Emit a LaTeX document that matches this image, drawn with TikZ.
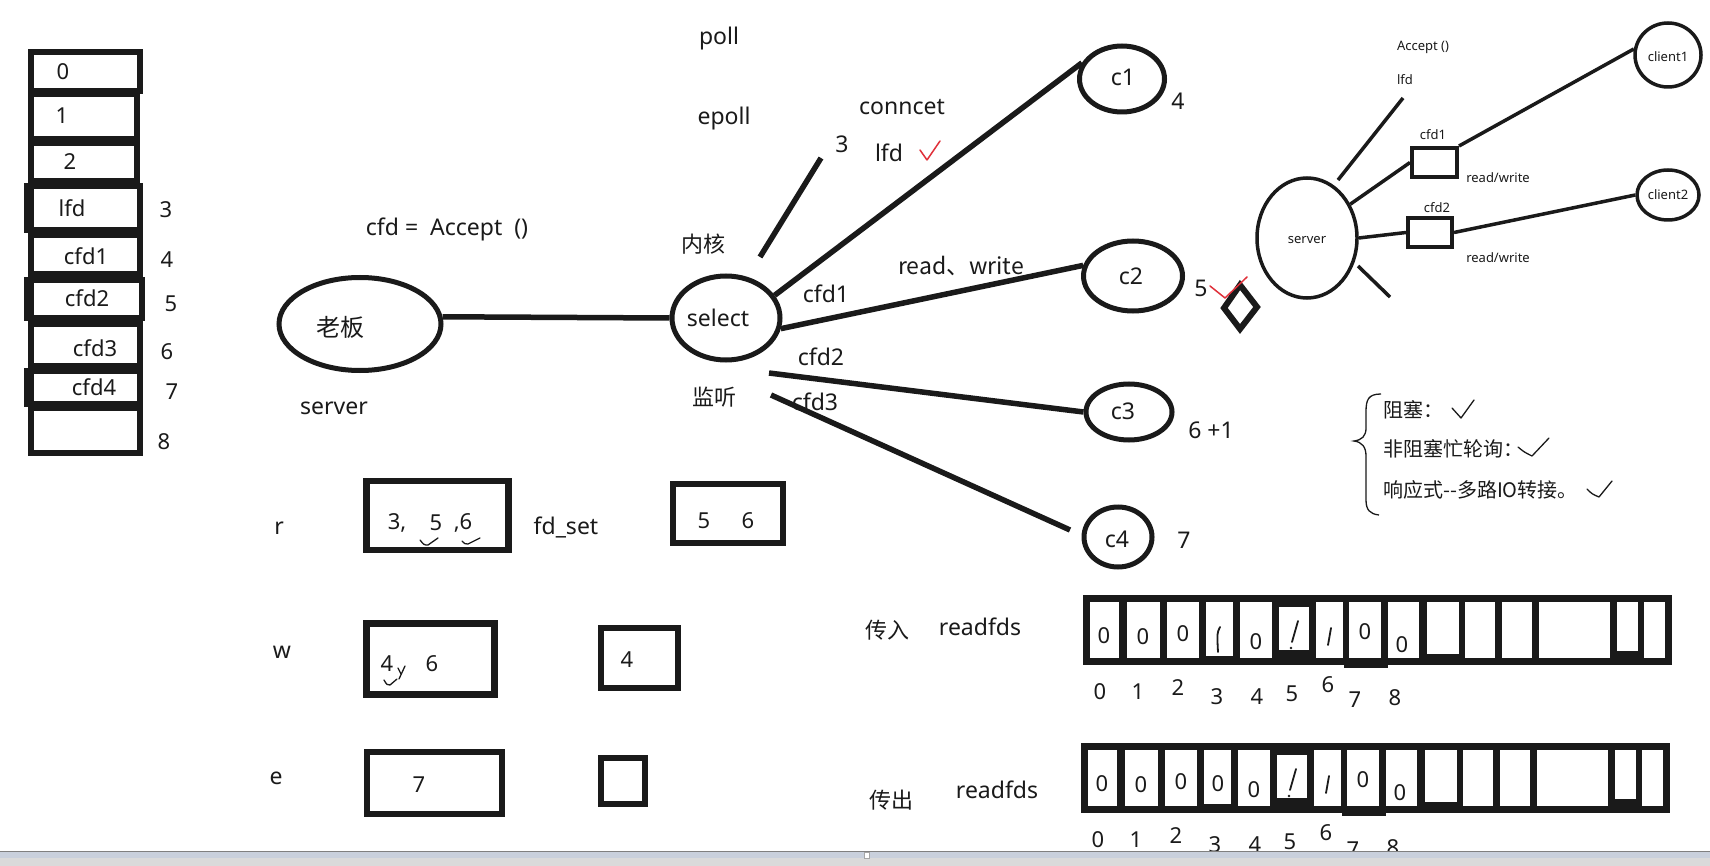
\documentclass[tikz,border=0pt]{standalone}
\usepackage{fontspec}
\setmainfont{Noto Sans}
\newfontfamily\cjk{Noto Sans CJK SC}
\usetikzlibrary{shapes.geometric}
\definecolor{ink}{HTML}{1A1A1A}
\definecolor{redmark}{HTML}{E0303A}
\definecolor{barblue}{HTML}{C9D0DC}
\definecolor{bargray}{HTML}{DADADA}
\tikzset{
  lab/.style={inner sep=0pt, text=ink, font=\fontsize{22}{26}\selectfont},
  labbig/.style={inner sep=0pt, text=ink, font=\fontsize{23}{27}\selectfont},
  labsm/.style={inner sep=0pt, text=ink, font=\fontsize{13}{15}\selectfont},
  labcn/.style={inner sep=0pt, text=ink, font=\cjk\fontsize{22}{26}\selectfont},
  ell/.style={draw=ink, ellipse, line width=5pt, inner sep=0pt},
  ellsm/.style={draw=ink, ellipse, line width=3.5pt, inner sep=0pt},
  conn/.style={draw=ink, line width=5.5pt},
  connsm/.style={draw=ink, line width=3.5pt},
  fdbox/.style={draw=ink, line width=6.5pt, inner sep=0pt},
  smbox/.style={draw=ink, line width=4pt, inner sep=0pt},
  tick/.style={draw=ink, line width=1.3pt, line cap=round, line join=round},
  redtick/.style={draw=redmark, line width=1.5pt, line cap=round, line join=round},
  pen/.style={draw=ink, line width=1.8pt, line cap=round},
}
\begin{document}
\begin{tikzpicture}[x=1pt,y=-1pt]
\useasboundingbox (0,0) rectangle (1710,866);
\fill[white] (0,0) rectangle (1710,866);

% ---------------- left fd table ----------------
\foreach \l/\t/\r/\b in {28/49/143/94, 28/91/140/142, 28/140/140/184, 24/183/143/233,
  28/232/143/277, 24/277/145/321, 28/321/143/369, 24/368/143/407, 28/405/143/456}
  {\fill[ink] (\l,\t) rectangle (\r,\b);}
\foreach \l/\t/\r/\b in {34/55/137/88, 34/97/134/136, 34/146/134/178, 34/189/137/227,
  34/238/137/271, 34/283/139/315, 34/327/137/363, 34/374/137/401, 34/411/137/450}
  {\fill[white] (\l,\t) rectangle (\r,\b);}
\node[lab] (s0) at (63,72) {0};
\node[lab] (s1) at (62,116) {1};
\node[lab] (s2) at (70,162) {2};
\node[lab] (s3) at (72,208) {lfd};
\node[lab] (s4) at (86,256) {cfd1};
\node[lab] (s5) at (87,298) {cfd2};
\node[lab] (s6) at (95,348) {cfd3};
\node[lab] (s7) at (94,387) {cfd4};
\node[lab] (i3) at (166,210) {3};
\node[lab] (i4) at (167,260) {4};
\node[lab] (i5) at (171,304) {5};
\node[lab] (i6) at (167,352) {6};
\node[lab] (i7) at (172,392) {7};
\node[lab] (i8) at (164,442) {8};

% ---------------- main select diagram ----------------
\node[labbig] (acc) at (447,229) {cfd =\ \ Accept\ \ ()};
\node[ell, minimum width=162pt, minimum height=93pt] (boss) at (360,324) {};
\node[labcn, font=\cjk\fontsize{24}{28}\selectfont] (bosst) at (340,327) {老板};
\node[labbig] (srvt) at (334,408) {server};
\node[ell, minimum width=108pt, minimum height=84pt] (sel) at (726,318) {};
\node[labbig] (selt) at (718,318) {select};
\node[labbig] (poll) at (719,39) {poll};
\node[labbig] (epoll) at (724,119) {epoll};
\node[labcn] (neihe) at (703,244) {内核};
\node[labcn] (jianting) at (714,397) {监听};

\node[ell, minimum width=85pt, minimum height=66pt] (c1) at (1122,79) {};
\node[ell, minimum width=99pt, minimum height=70pt] (c2) at (1133,276) {};
\node[ell, minimum width=86pt, minimum height=56pt] (c3) at (1129,412) {};
\node[ell, minimum width=68pt, minimum height=60pt] (c4) at (1118,537) {};
\node[labbig] (c1t) at (1123,77) {c1};
\node[labbig] (c2t) at (1131,276) {c2};
\node[labbig] (c3t) at (1123,411) {c3};
\node[labbig] (c4t) at (1117,539) {c4};
\node[labbig] (n4) at (1178,101) {4};
\node[labbig] (n5) at (1201,288) {5};
\node[labbig] (n6) at (1211,430) {6 +1};
\node[labbig] (n7) at (1184,540) {7};

\node[labbig] (conncet) at (902,107) {conncet};
\node[labbig] (lfdt) at (889,153) {lfd};
\node[labbig] (three) at (842,144) {3};
\node[labbig] (cfd1t) at (826,294) {cfd1};
\node[labbig, font=\cjk\fontsize{23}{27}\selectfont] (rwt) at (961,266) {read、write};
\node[labbig] (cfd2t) at (821,357) {cfd2};
\node[labbig] (cfd3t) at (815,402) {cfd3};

\coordinate (k1) at (760,257);
\coordinate (k2) at (821,158);
\coordinate (d2a) at (769,373);
\coordinate (d3a) at (771,395);
\coordinate (d3b) at (1070,530);
\draw[conn] (boss.5) -- (sel.west);
\draw[conn] (k1) -- (k2);
\draw[conn] (sel.25) -- (c1.158);
\draw[conn] (sel.-11) -- (c2.168);
\draw[conn] (d2a) -- (c3.west);
\draw[conn] (d3a) -- (d3b);

% red checks and diamond
\draw[redtick] (920,150) -- (927,160) -- (940,141);
\draw[ink, line width=6pt, line join=miter] (1240,285) -- (1257,307) -- (1240,329) -- (1224,308) -- cycle;
\draw[redtick] (1210,286) -- (1225,298) -- (1247,277);

% ---------------- r / w / e sets ----------------
\node[labbig] (rl) at (279,528) {r};
\node[labbig] (wl) at (282,652) {w};
\node[labbig] (el) at (276,778) {e};
\node[fdbox, minimum width=142pt, minimum height=69pt] (rbox) at (437.5,515.5) {};
\node[fdbox, minimum width=110pt, minimum height=59pt] (rbox2) at (728,513.5) {};
\node[fdbox, minimum width=128pt, minimum height=71pt] (wbox) at (430.5,659) {};
\node[fdbox, minimum width=77pt, minimum height=60pt] (wbox2) at (639.5,658) {};
\node[fdbox, minimum width=135pt, minimum height=62pt] (ebox) at (434.5,783) {};
\node[fdbox, minimum width=44pt, minimum height=46pt] (ebox2) at (623,781) {};
\node[lab] (r3) at (397,523) {3,};
\node[lab] (r5) at (436,523) {5};
\node[lab] (r6) at (463,523) {,6};
\node[labbig] (fdset) at (566,527) {fd\_set};
\node[lab] (q5) at (704,521) {5};
\node[lab] (q6) at (748,521) {6};
\node[lab] (w4) at (387,664) {4};
\node[lab] (w6) at (432,664) {6};
\node[lab] (w4b) at (627,660) {4};
\node[lab] (e7) at (419,785) {7};
\draw[tick] (420,540) .. controls (424,545) .. (428,545) -- (438,538);
\draw[tick] (462,541) .. controls (465,544) .. (468,544) -- (480,538);
\draw[tick] (384,680) .. controls (387,685) .. (390,685) -- (397,679);
\draw[tick] (398,668) -- (401,674);
\draw[tick] (405,666) -- (399,679);

% ---------------- readfds bitmaps ----------------
\node[labcn] (chuanru) at (887,630) {传入};
\node[labbig] (rdin) at (980,627) {readfds};
\node[labcn] (chuanchu) at (891,800) {传出};
\node[labbig] (rdout) at (997,790) {readfds};

\foreach \dy/\dx in {0/0, 148/-2}{
  \begin{scope}[yshift=-\dy pt, xshift=\dx pt]
    \fill[ink] (1083,595) rectangle (1672,665);
    \fill[ink] (1344,660) rectangle (1388,668);
    \foreach \a/\b/\t/\u in {1090/1119/602/658, 1127/1160/602/658, 1167/1199/602/658,
      1206/1233/602/656, 1240/1272/602/658, 1279/1309/607/650, 1316/1343/602/658,
      1349/1381/602/658, 1388/1419/602/658, 1427/1459/602/654, 1465/1495/602/658,
      1502/1532/602/658, 1539/1610/602/658, 1617/1638/602/651, 1644/1665/602/658}
      {\fill[white] (\a,\t) rectangle (\b,\u);}
    \draw[pen] (1298,621) -- (1292,642);
    \fill[ink] (1291,648) circle (1.3pt);
    \draw[pen] (1331,628) -- (1328,645);
  \end{scope}
}
\foreach \x/\y in {1104/636, 1143/637, 1183/634, 1256/642, 1365/632, 1402/645}
  {\node[lab] at (\x,\y) {0};}
\draw[pen] (1220,627) .. controls (1217,633) .. (1218,652);
\foreach \x/\y in {1102/784, 1141/785, 1181/782, 1218/784, 1254/790, 1363/780, 1400/793}
  {\node[lab] at (\x,\y) {0};}

\foreach \x/\y/\d in {1100/692/0, 1138/692/1, 1178/688/2, 1217/697/3, 1257/697/4,
  1292/694/5, 1328/685/6, 1355/700/7, 1395/698/8,
  1098/840/0, 1136/840/1, 1176/836/2, 1215/845/3, 1255/845/4,
  1290/842/5, 1326/833/6, 1353/850/7, 1393/848/8}
  {\node[lab] at (\x,\y) {\d};}

% ---------------- brace notes ----------------
\draw[ink, line width=1.3pt] (1381,394) .. controls (1368,394) and (1366,400) .. (1366,412)
  -- (1366,428) .. controls (1366,436) and (1362,440) .. (1354,441)
  .. controls (1362,442) and (1366,447) .. (1366,456)
  -- (1366,500) .. controls (1366,510) and (1370,514) .. (1379,515);
\node[labcn, anchor=west, font=\cjk\fontsize{20}{24}\selectfont] (b1) at (1383,410) {阻塞：};
\node[labcn, anchor=west, font=\cjk\fontsize{20}{24}\selectfont] (b2) at (1383,449) {非阻塞忙轮询：};
\node[labcn, anchor=west, font=\cjk\fontsize{20}{24}\selectfont] (b3) at (1383,490) {响应式--多路IO转接。};
\draw[tick] (1452,408) -- (1461,418) -- (1474,400);
\draw[tick] (1518,447) .. controls (1524,452) .. (1532,456) -- (1549,438);
\draw[tick] (1587,489) .. controls (1592,494) .. (1599,497) -- (1612,481);

% ---------------- mini server diagram ----------------
\node[ellsm, minimum width=100pt, minimum height=120pt] (srv) at (1307,238) {};
\node[labsm] (srvt2) at (1307,240) {server};
\node[ellsm, minimum width=66pt, minimum height=64pt] (cl1) at (1668,55) {};
\node[labsm] (cl1t) at (1668,57) {client1};
\node[ellsm, minimum width=62pt, minimum height=50pt] (cl2) at (1668,195) {};
\node[labsm] (cl2t) at (1668,195) {client2};
\node[smbox, minimum width=45pt, minimum height=29pt] (mb1) at (1434.5,162.5) {};
\node[smbox, minimum width=44pt, minimum height=29pt] (mb2) at (1430,232.5) {};
\node[labsm] (acc2) at (1423,47) {Accept\ ()};
\node[labsm] (lfd2) at (1405,80) {lfd};
\node[labsm] (mc1) at (1433,135) {cfd1};
\node[labsm] (mc2) at (1437,208) {cfd2};
\node[labsm] (rw1) at (1498,178) {read/write};
\node[labsm] (rw2) at (1498,258) {read/write};
\coordinate (m1) at (1338,180);
\coordinate (m2) at (1403,98);
\coordinate (m3) at (1358,266);
\coordinate (m4) at (1390,297);
\draw[connsm] (m1) -- (m2);
\draw[connsm] (srv.38) -- (mb1.west);
\draw[connsm] (mb1.north east) -- (cl1.170);
\draw[connsm] (srv.east) -- (mb2.west);
\draw[connsm] (mb2.east) -- (cl2.west);
\draw[connsm] (m3) -- (m4);

% ---------------- window bar ----------------
\fill[barblue] (0,851) rectangle (1710,858);
\fill[bargray] (0,858) rectangle (1710,866);
\draw[gray, line width=0.6pt] (0,851) -- (1710,851);
\draw[gray!70, fill=white, line width=0.6pt] (864,852) rectangle (869,858);
\end{tikzpicture}
\end{document}
